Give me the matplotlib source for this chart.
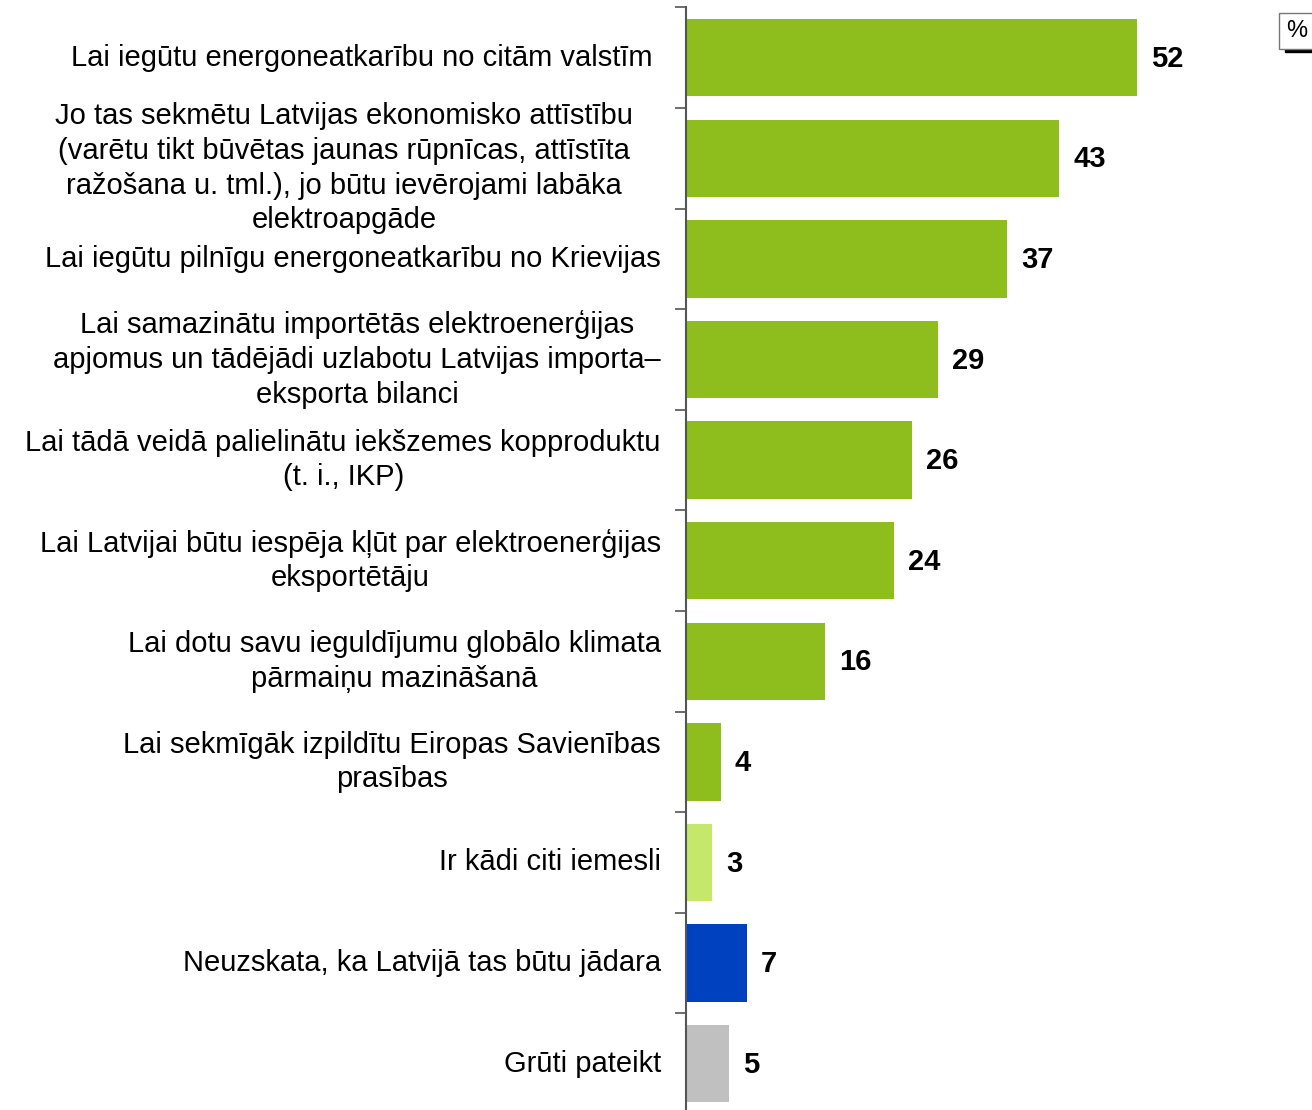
import matplotlib
matplotlib.use("Agg")
import matplotlib.pyplot as plt
from matplotlib.patches import Rectangle

categories = [
    "Lai iegūtu energoneatkarību no citām valstīm",
    "Jo tas sekmētu Latvijas ekonomisko attīstību\n(varētu tikt būvētas jaunas rūpnīcas, attīstīta\nražošana u. tml.), jo būtu ievērojami labāka\nelektroapgāde",
    "Lai iegūtu pilnīgu energoneatkarību no Krievijas",
    "Lai samazinātu importētās elektroenerģijas\napjomus un tādējādi uzlabotu Latvijas importa–\neksporta bilanci",
    "Lai tādā veidā palielinātu iekšzemes kopproduktu\n(t. i., IKP)",
    "Lai Latvijai būtu iespēja kļūt par elektroenerģijas\neksportētāju",
    "Lai dotu savu ieguldījumu globālo klimata\npārmaiņu mazināšanā",
    "Lai sekmīgāk izpildītu Eiropas Savienības\nprasības",
    "Ir kādi citi iemesli",
    "Neuzskata, ka Latvijā tas būtu jādara",
    "Grūti pateikt",
]
values = [52, 43, 37, 29, 26, 24, 16, 4, 3, 7, 5]
colors = ["#8DBE1E"] * 8 + ["#C6E86A", "#0041BF", "#C0C0C0"]

plt.rcParams['font.family'] = ['Liberation Sans', 'DejaVu Sans']

W, H = 1312, 1110
fig = plt.figure(figsize=(W / 100, H / 100), dpi=100)
ax_bottom = -4 / H
ax_top = 1 - 7.4 / H
ax = fig.add_axes([686 / W, ax_bottom, 1 - 686 / W, ax_top - ax_bottom])

n = len(values)
ypos = list(range(n))
ax.barh(ypos, values, height=0.77, color=colors, zorder=2)
ax.set_ylim(n - 0.5, -0.5)
ax.set_xlim(0, 626 / 8.68)
px = ax.get_xlim()[1] / 626.0  # data units per pixel

for y, v in zip(ypos, values):
    ax.text(v + 1.6, y + 0.01, str(v), va='center', ha='left', fontsize=21,
            fontweight='bold', color='black')

# per-label right edge shift in pixels (layout only)
shift = {0: 8, 1: 28}
for i, (y, lab) in enumerate(zip(ypos, categories)):
    off = 0.1 if lab.count("\n") == 3 else 0.0
    ax.text(-2.9 - shift.get(i, 0) * px, y + off, lab, ha='right', va='center',
            multialignment='center', fontsize=21, color='black', linespacing=1.3)

for s in ['top', 'right', 'bottom']:
    ax.spines[s].set_visible(False)
ax.spines['left'].set_color('#555555')
ax.spines['left'].set_linewidth(1.5)
ax.set_xticks([])
ax.set_yticks([y - 0.5 for y in range(n + 1)])
ax.set_yticklabels([])
ax.tick_params(axis='y', length=8, width=1.2, color='#555555', direction='out')

# % box
fig.patches.append(Rectangle((1285 / W, 1 - 52 / H), 27 / W, 6 / H,
                             transform=fig.transFigure, color='black'))
fig.text(1297 / W, 1 - 31 / H, "%", ha='center', va='center', fontsize=17,
         bbox=dict(boxstyle='square,pad=0.3', fc='white', ec='#777777', lw=1))

fig.savefig("out.png", dpi=100)
